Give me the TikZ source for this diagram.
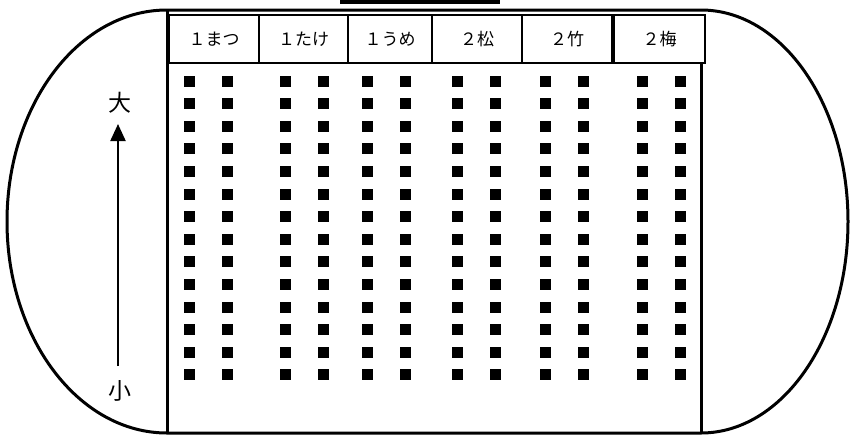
\documentclass[tikz,border=0pt]{standalone}
\usepackage{fontspec}
\newfontfamily\jpfont{Noto Sans CJK JP}
\usetikzlibrary{arrows.meta}

\tikzset{
  fieldline/.style={line width=3pt},
  hdrbox/.style={draw,line width=1.4pt,minimum height=48pt,inner sep=0pt,
    font=\jpfont\fontsize{17}{17}\selectfont},
  seat/.style={fill=black,minimum size=11pt,inner sep=0pt},
  sizetxt/.style={font=\jpfont\fontsize{23}{23}\selectfont}
}

\begin{document}
\begin{tikzpicture}[x=1pt,y=1pt]
    \useasboundingbox (0,0) rectangle (851,-437);

    % grounds
    \draw [fieldline] (167,-10) -- (701,-10) arc (90:-90:147 and 211.5)
        -- (167,-433) arc (270:90:160 and 211.5);
    \draw [fieldline] (167,-10) -- (167,-433);
    \draw [fieldline] (701,-62) -- (701,-433);
    \fill (340,0) rectangle (500,-3.5);

    % class boxes
    \foreach \l/\r/\t [count=\i] in {169/259/１まつ, 259/348/１たけ, 348/432/１うめ,
            432/522/２松, 522/612/２竹, 614/705/２梅} {
        \pgfmathsetmacro{\w}{\r-\l}
        \pgfmathsetmacro{\m}{(\l+\r)/2}
        \node [hdrbox, minimum width=\w pt] (class\i) at (\m,-39) {\t};
    }

    % seats
    \foreach \x [count=\c] in {189,227,285,323,367,405,457,495,545,583,642,680}
        \foreach \r in {0,...,13}
            \node [seat] (seat\c-\r) at (\x,{-81-22.6*\r}) {};

    % size arrow
    \node [sizetxt] (big) at (120,-103) {大};
    \node [sizetxt] (small) at (120,-391) {小};
    \coordinate (arrlo) at (118,-366);
    \coordinate (arrhi) at (118,-124);
    \draw [line width=2.2pt, -{Triangle[width=15pt,length=17pt]}] (arrlo) -- (arrhi);
\end{tikzpicture}
\end{document}
